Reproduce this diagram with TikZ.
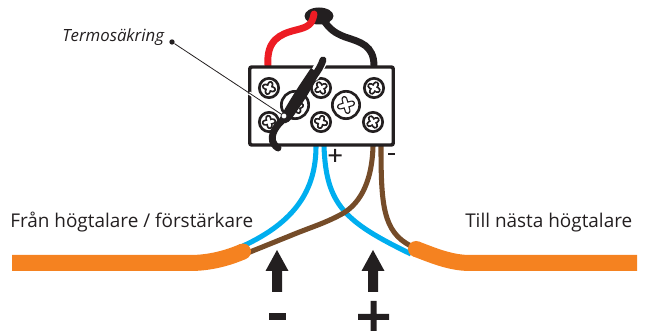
\documentclass[tikz,border=0pt]{standalone}
\usepackage{fontspec}
\setmainfont{Open Sans}
\definecolor{ink}{HTML}{231F20}
\definecolor{wblue}{HTML}{00AEEF}
\definecolor{wbrown}{HTML}{754C29}
\definecolor{worange}{HTML}{F58220}
\definecolor{wred}{HTML}{ED1C24}
\tikzset{
  screwring/.style={circle,draw=ink,line width=2pt,fill=white,inner sep=0pt,minimum size=#1},
  wirea/.style={line width=3.8pt,line cap=butt},
  cable/.style={line width=12pt,color=worange,line cap=butt},
  label/.style={font=\fontsize{14.2pt}{16pt}\selectfont,text=ink,inner sep=0pt,anchor=base west},
  uparrow/.style={fill=ink,draw=none},
}
\newcommand{\crosshead}[3]{% x y rotation
  \begin{scope}[shift={(#1,#2)},rotate=#3]
    \draw[ink,line width=4.6pt,line cap=round] (-4.2,0)--(4.2,0) (0,-4.2)--(0,4.2);
    \draw[white,line width=2pt,line cap=round] (-4.2,0)--(4.2,0) (0,-4.2)--(0,4.2);
  \end{scope}}
\begin{document}
\begin{tikzpicture}[x=0.75pt,y=-0.75pt]
\useasboundingbox (0,0) rectangle (650,331);
% coordinates
\coordinate (bl1) at (316,146);
\coordinate (bl2) at (324,146);
\coordinate (br1) at (373,146);
\coordinate (br2) at (381,146);
\coordinate (cl) at (243,251.5);
\coordinate (cr) at (416,249);
\coordinate (redtop) at (314,14);
\coordinate (blacktop) at (322,18);
% lower wires
\draw[wbrown,wirea] (br2) .. controls (381,205) and (383,232) .. (411,246);
\draw[wblue,wirea] (bl2) .. controls (326,205) and (345,222) .. (411,254);
\draw[wblue,wirea] (bl1) .. controls (316,190) and (295,222) .. (243,246);
\draw[wbrown,wirea] (br1) .. controls (372,185) and (358,206) .. (340,215) .. controls (325,223) and (312,227) .. (297,233) -- (245,254);
% cables
\draw[cable] (12,263) -- (190,263) .. controls (210,263) and (228,258) .. (cl);
\fill[worange] (cl) circle [radius=8];
\draw[cable] (cr) .. controls (432,255) and (450,263) .. (470,263) -- (637,263);
\fill[worange] (cr) circle [radius=8];
% upper wires
\fill[ink] (319,16) ellipse [x radius=14.5,y radius=8.5];
\draw[ink,line width=5.2pt] (374,66) .. controls (374,45) and (360,42) .. (345,37) .. controls (335,33) and (330,30) .. (blacktop);
\draw[wred,line width=5.2pt,line cap=round] (268,66) .. controls (266,40) and (280,34) .. (296,30) .. controls (308,27) and (312,25) .. (redtop);
% terminal block
\node[draw=ink,fill=white,line width=2.6pt,rounded corners=1.5pt,minimum width=143.5pt*0.75,minimum height=78pt*0.75,inner sep=0pt] (block) at (321.5,106) {};
\foreach \n/\x/\y/\r in {a/269/88/-20,b/321/88/30,c/374/88/-30,d/269/122/10,e/321/122/-15,f/373/122/30}{
  \node[screwring=14.5pt] (s\n) at (\x,\y) {};
  \crosshead{\x}{\y}{\r}
}
\node[screwring=20.5pt] (sg) at (346,105) {};
\begin{scope}[shift={(346,105)},rotate=15,scale=1.5]
  \draw[ink,line width=4.4pt,line cap=round] (-4.2,0)--(4.2,0) (0,-4.2)--(0,4.2);
  \draw[white,line width=2.6pt,line cap=round] (-4.2,0)--(4.2,0) (0,-4.2)--(0,4.2);
\end{scope}
\node[screwring=20.5pt] (sh) at (295,105) {};
\crosshead{297}{107}{20}
% fuse
\coordinate (fa) at (323,60);
\coordinate (fb) at (314,76);
\coordinate (fc) at (284,119);
\coordinate (fd) at (278,148);
\draw[white,line width=8pt,line cap=round] (fa) -- (fb);
\draw[ink,line width=5.2pt,line cap=round] (fa) .. controls (321,66) and (318,71) .. (fb);
\fill[ink] (319,74) .. controls (312,88) and (305,100) .. (292,118) .. controls (288,124) and (282,126) .. (280,118) .. controls (286,106) and (296,90) .. (311,68) -- cycle;
\draw[ink,line width=5.2pt,line cap=round] (fc) .. controls (275,126) and (266,140) .. (fd);
% leader
\node[circle,fill=ink,inner sep=0pt,minimum size=4pt] (tdot) at (172,42) {};
\coordinate (tend) at (284,116);
\draw[white,line width=2.6pt] (249,93) -- (tend);
\draw[ink,line width=0.6pt] (tdot) -- (tend);
\node[circle,draw=ink,fill=white,line width=0.6pt,inner sep=0pt,minimum size=4.5pt] (tring) at (tend) {};
% labels
\node[label,font=\fontsize{12.6pt}{14pt}\selectfont\itshape] (tlabel) at (62,42) {Termosäkring};
\node[label] (lleft) at (10,228) {Från högtalare / förstärkare};
\node[label] (lright) at (465,228) {Till nästa högtalare};
% small signs
\fill[ink] (328.5,154.5) rectangle (341.5,156.5) (334,149) rectangle (336,162);
\fill[ink] (388,153) rectangle (395,155.5);
% arrows
\fill[uparrow] (277,250) -- (288.5,271) -- (282,271) -- (282,292) -- (272,292) -- (272,271) -- (265.5,271) -- cycle;
\fill[uparrow] (373,250) -- (384.5,271) -- (378,271) -- (378,292) -- (368,292) -- (368,271) -- (361.5,271) -- cycle;
% big signs
\fill[ink] (269,313) rectangle (286,320);
\fill[ink] (358,314) rectangle (389,320) (370.5,301) rectangle (376.5,331);
\end{tikzpicture}
\end{document}
